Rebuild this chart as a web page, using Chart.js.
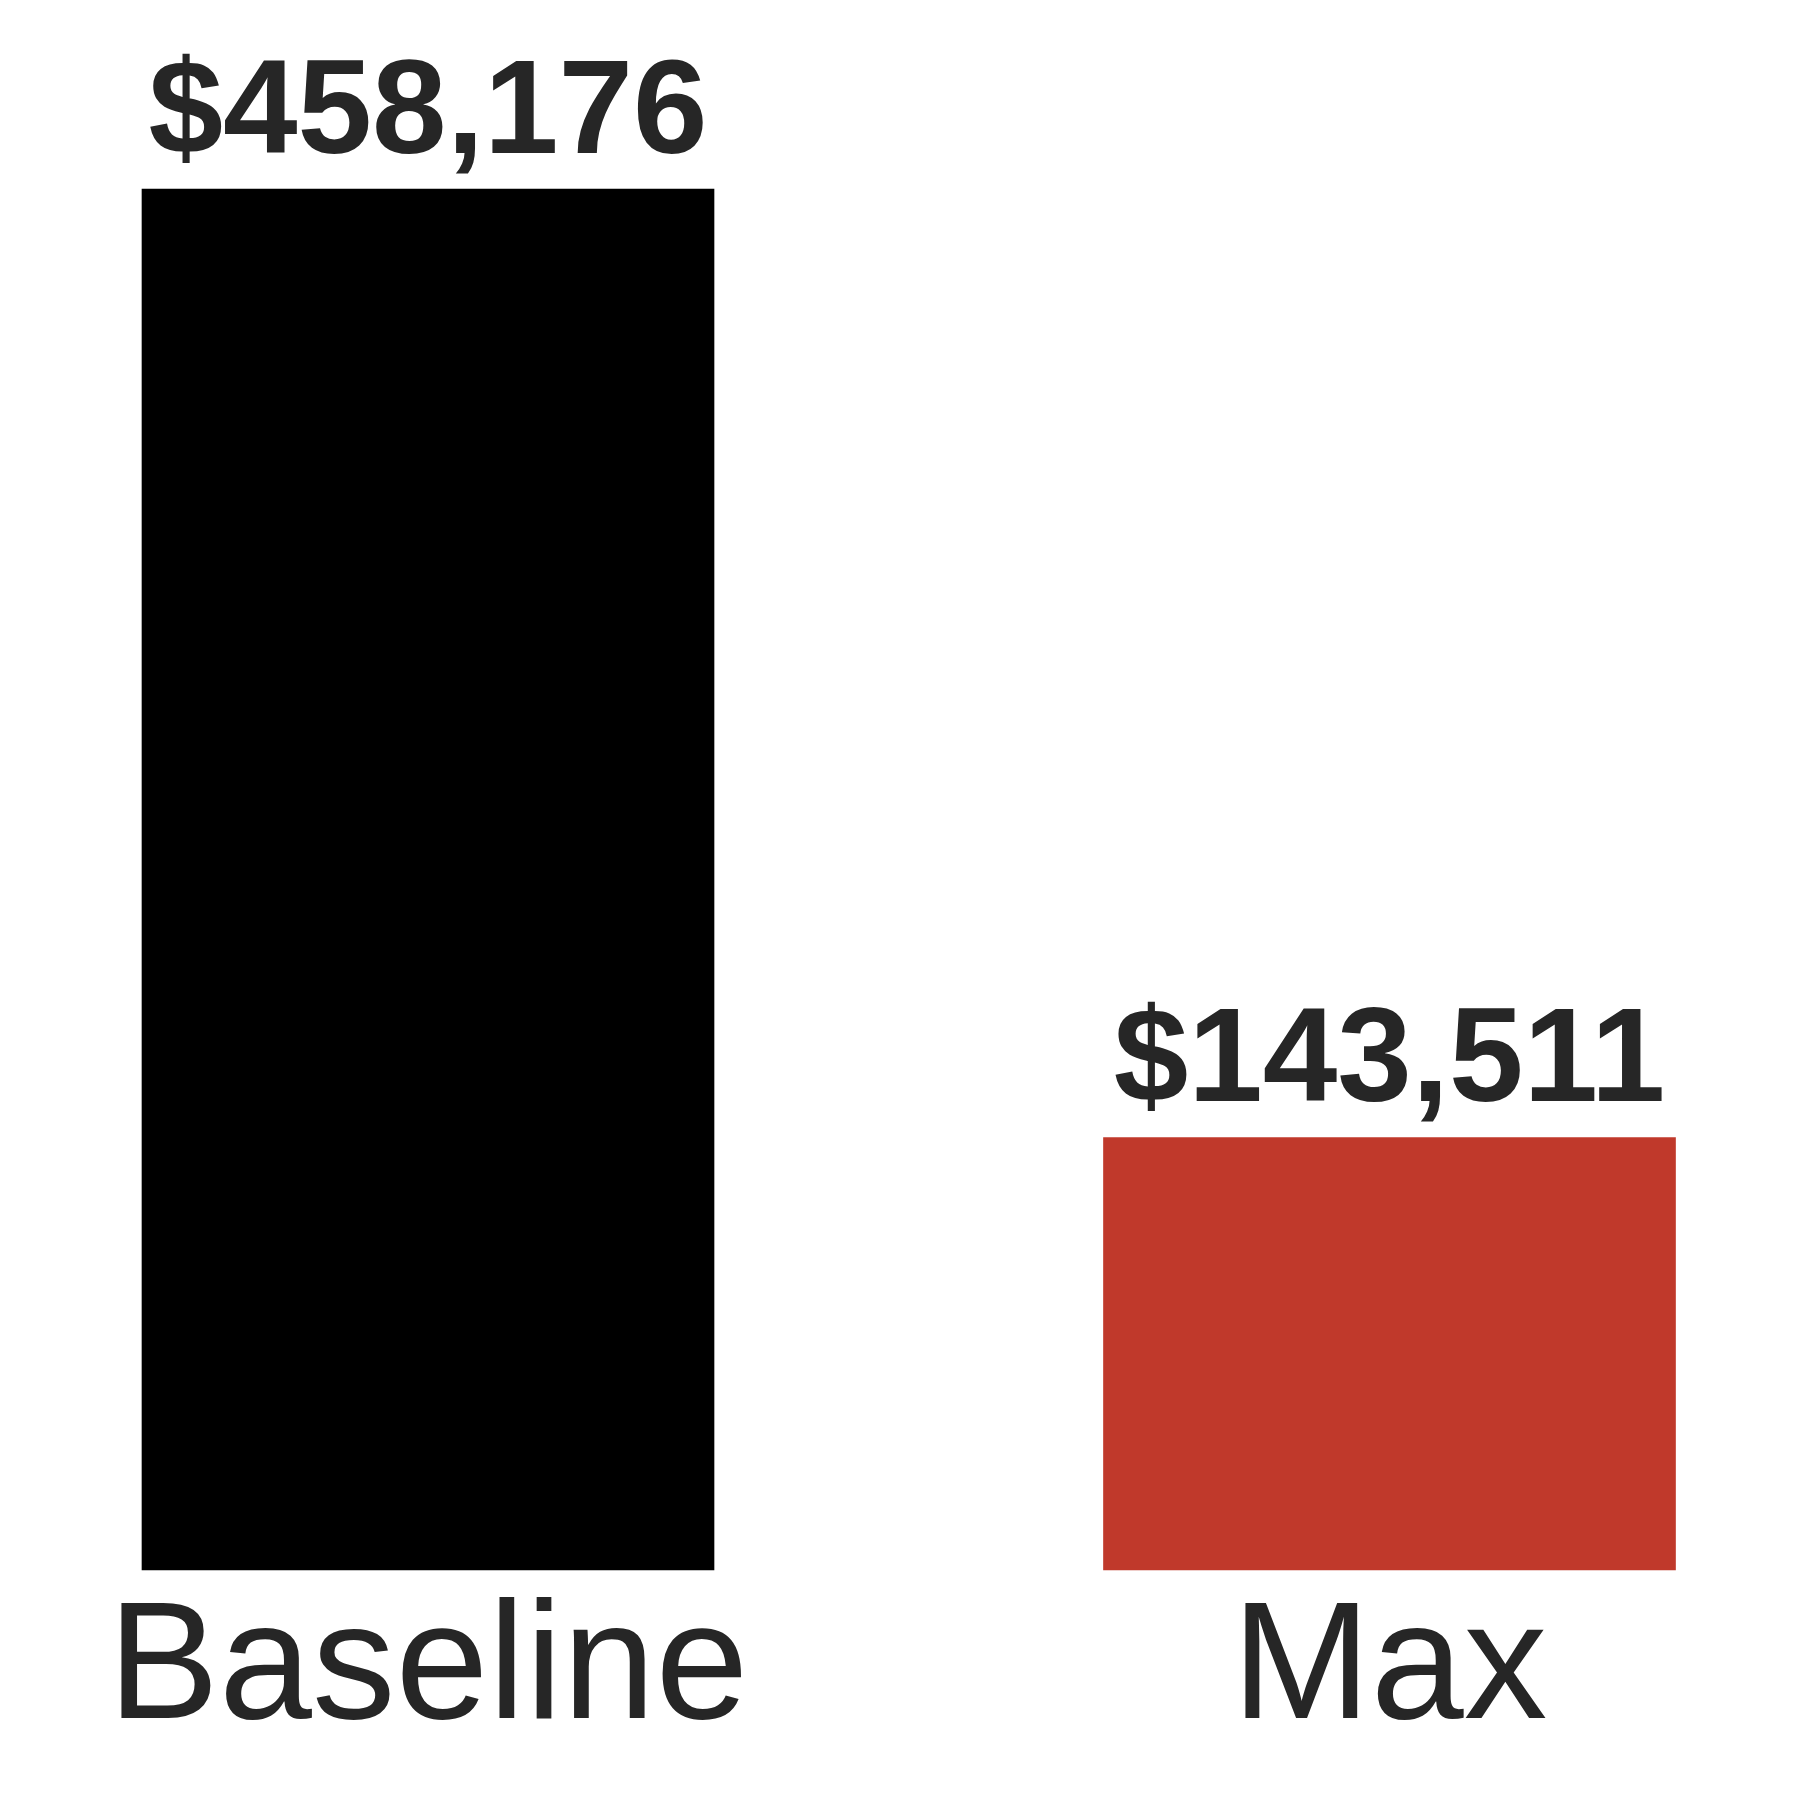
<!DOCTYPE html>
<html>
<head>
<meta charset="utf-8">
<script src="https://cdn.jsdelivr.net/npm/chart.js@4.4.1/dist/chart.umd.min.js"></script>
<style>
  html, body { margin: 0; padding: 0; background: #ffffff; }
  #wrap { width: 1800px; height: 1800px; position: relative; }
</style>
</head>
<body>
<div id="wrap"><canvas id="c"></canvas></div>
<script>
const categories = ["Baseline", "Max"];
const values = [458176, 143511];
const barColors = ["#000000", "#c0392b"];
const yMax = 500000;

const textColor = "#262626";

const valueLabels = {
  id: "valueLabels",
  afterDatasetsDraw(chart) {
    const ctx = chart.ctx;
    const meta = chart.getDatasetMeta(0);
    ctx.save();
    ctx.fillStyle = textColor;
    ctx.font = "bold 134px 'Liberation Sans', Arial, sans-serif";
    ctx.textAlign = "center";
    ctx.textBaseline = "alphabetic";
    meta.data.forEach((bar, i) => {
      const v = chart.data.datasets[0].data[i];
      ctx.fillText("$" + v.toLocaleString("en-US"), bar.x, bar.y - 36);
    });
    ctx.restore();
  }
};

new Chart(document.getElementById("c"), {
  type: "bar",
  data: {
    labels: categories,
    datasets: [{
      data: values,
      backgroundColor: barColors,
      borderWidth: 0,
      barThickness: 572,
      clip: false
    }]
  },
  options: {
    responsive: true,
    maintainAspectRatio: false,
    animation: false,
    devicePixelRatio: 1,
    layout: { padding: { top: 63, left: 428, right: 410.5, bottom: 25.6 } },
    plugins: { legend: { display: false }, tooltip: { enabled: false } },
    scales: {
      x: {
        offset: false,
        grid: { display: false, drawTicks: false },
        border: { display: false },
        ticks: {
          color: textColor,
          padding: 2,
          maxRotation: 0,
          autoSkip: false,
          font: { family: "'Liberation Sans', Arial, sans-serif", size: 167, lineHeight: 1.2 }
        }
      },
      y: {
        display: false,
        min: 0,
        max: yMax
      }
    }
  },
  plugins: [valueLabels]
});
</script>
</body>
</html>
